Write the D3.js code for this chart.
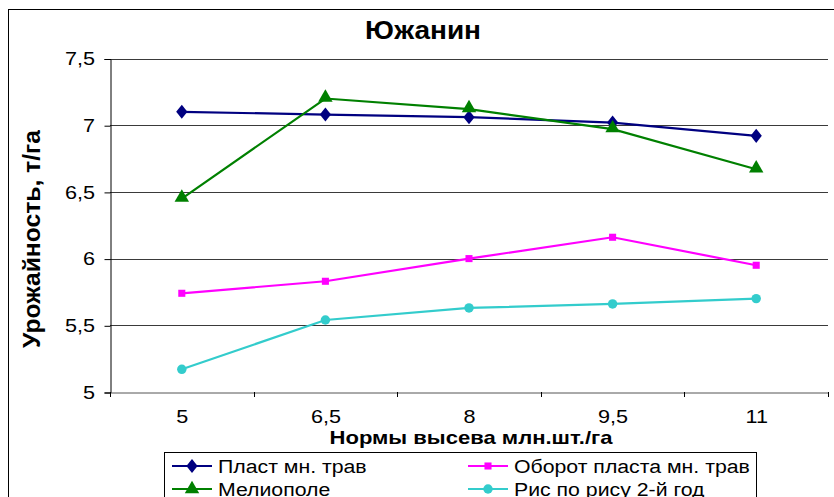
<!DOCTYPE html>
<html>
<head>
<meta charset="utf-8">
<title>Южанин</title>
<script src="https://d3js.org/d3.v7.min.js"></script>
<style>
body { margin: 0; background: #fff; }
svg { display: block; font-family: "Liberation Sans", Arial, sans-serif; }
.grid line { stroke: #3a3a3a; stroke-width: 1; }
</style>
</head>
<body>
<div id="chart"></div>
<script>
// categories (нормы высева) and series values
var norms = ["5", "6,5", "8", "9,5", "11"];
var plast = [7.1, 7.08, 7.06, 7.02, 6.92];
var oborot = [5.74, 5.83, 6.0, 6.16, 5.95];
var melio = [6.45, 7.2, 7.12, 6.97, 6.67];
var ris = [5.17, 5.54, 5.63, 5.66, 5.7];
var yTicks = [5, 5.5, 6, 6.5, 7, 7.5];

var series = [
  {name: "Пласт мн. трав", values: plast, color: "#000080", sym: d3.symbolDiamond, size: 70},
  {name: "Оборот пласта мн. трав", values: oborot, color: "#ff00ff", sym: d3.symbolSquare, size: 50},
  {name: "Мелиополе", values: melio, color: "#008000", sym: d3.symbolTriangle, size: 90},
  {name: "Рис по рису 2-й год", values: ris, color: "#33cccc", sym: d3.symbolCircle, size: 70}
];

var width = 834, height = 497;
var svg = d3.select("#chart").append("svg").attr("width", width).attr("height", height);

// outer chart frame
svg.append("rect").attr("x", 8.5).attr("y", 9.5).attr("width", 840).attr("height", 520)
  .attr("fill", "#fff").attr("stroke", "#000").attr("stroke-width", 1);

var x = d3.scaleBand().domain(norms).range([110, 828]);
var y = d3.scaleLinear().domain([5, 7.5]).range([392, 58.5]);

// gridlines
svg.append("g").attr("class", "grid")
  .selectAll("line").data(yTicks.slice(1)).enter().append("line")
  .attr("x1", 110).attr("x2", 828)
  .attr("y1", function(d) { return Math.round(y(d)) + 0.5; })
  .attr("y2", function(d) { return Math.round(y(d)) + 0.5; });

var fmt = function(d) { return String(d).replace(".", ","); };

var yAxis = svg.append("g").attr("transform", "translate(110.5,0.5)")
  .call(d3.axisLeft(y).tickValues(yTicks).tickSize(6).tickPadding(7).tickFormat(fmt));
yAxis.selectAll("text").attr("font-size", 18).attr("fill", "#000").attr("font-family", "Liberation Sans, Arial")
  .attr("transform", "scale(1.2,1)");
yAxis.selectAll("line, path").attr("stroke", "#000");

var xAxis = svg.append("g").attr("transform", "translate(0.5,392.5)")
  .call(d3.axisBottom(x).tickSize(0).tickPadding(18));
xAxis.select(".domain").attr("stroke", "#555");
xAxis.selectAll("text").attr("font-size", 18).attr("fill", "#000").attr("font-family", "Liberation Sans, Arial")
  .attr("transform", "scale(1.2,1)");
// tick marks between categories
var bounds = norms.map(function(d) { return x(d); }).concat([x.range()[1]]);
svg.append("g").selectAll("line").data(bounds).enter().append("line")
  .attr("x1", function(d) { return Math.round(d) + 0.5; })
  .attr("x2", function(d) { return Math.round(d) + 0.5; })
  .attr("y1", 392).attr("y2", 397).attr("stroke", "#000");

var cx = function(i) { return x(norms[i]) + x.bandwidth() / 2; };
var line = d3.line().x(function(d, i) { return cx(i); }).y(function(d) { return y(d); });

series.forEach(function(s) {
  svg.append("path").datum(s.values).attr("d", line)
    .attr("fill", "none").attr("stroke", s.color).attr("stroke-width", 2.2);
  svg.append("g").selectAll("path").data(s.values).enter().append("path")
    .attr("d", d3.symbol().type(s.sym).size(s.size))
    .attr("transform", function(d, i) {
      var dy = s.sym === d3.symbolTriangle ? -1 : 0;
      return "translate(" + cx(i) + "," + (y(d) + dy) + ")" + (s.sym === d3.symbolDiamond ? " scale(1.25,0.9)" : "");
    })
    .attr("fill", s.color);
});

// titles
svg.append("text").attr("x", 423).attr("y", 39).attr("text-anchor", "middle")
  .attr("font-size", 25).attr("font-weight", "bold")
  .attr("textLength", 116).attr("lengthAdjust", "spacingAndGlyphs").text("Южанин");
svg.append("text").attr("transform", "translate(40,239) rotate(-90)").attr("text-anchor", "middle")
  .attr("font-size", 23).attr("font-weight", "bold")
  .attr("textLength", 218).attr("lengthAdjust", "spacingAndGlyphs").text("Урожайность, т/га");
svg.append("text").attr("x", 471).attr("y", 444).attr("text-anchor", "middle")
  .attr("font-size", 19).attr("font-weight", "bold")
  .attr("textLength", 283).attr("lengthAdjust", "spacingAndGlyphs").text("Нормы высева млн.шт./га");

// legend
var legend = svg.append("g");
legend.append("rect").attr("x", 164.5).attr("y", 452.5).attr("width", 592).attr("height", 60)
  .attr("fill", "#fff").attr("stroke", "#000");
series.forEach(function(s, i) {
  var lx = i % 2 === 0 ? 172 : 468;
  var ly = i < 2 ? 466 : 489;
  var g = legend.append("g");
  g.append("line").attr("x1", lx).attr("x2", lx + 40).attr("y1", ly).attr("y2", ly)
    .attr("stroke", s.color).attr("stroke-width", 2.2);
  g.append("path").attr("d", d3.symbol().type(s.sym).size(s.size))
    .attr("transform", "translate(" + (lx + 20) + "," + ly + ")" + (s.sym === d3.symbolDiamond ? " scale(1.25,0.9)" : ""))
    .attr("fill", s.color);
  g.append("text").attr("transform", "translate(" + (lx + 46) + "," + (ly + 7) + ") scale(1.12,1)")
    .attr("font-size", 19).text(s.name);
});
</script>
</body>
</html>
